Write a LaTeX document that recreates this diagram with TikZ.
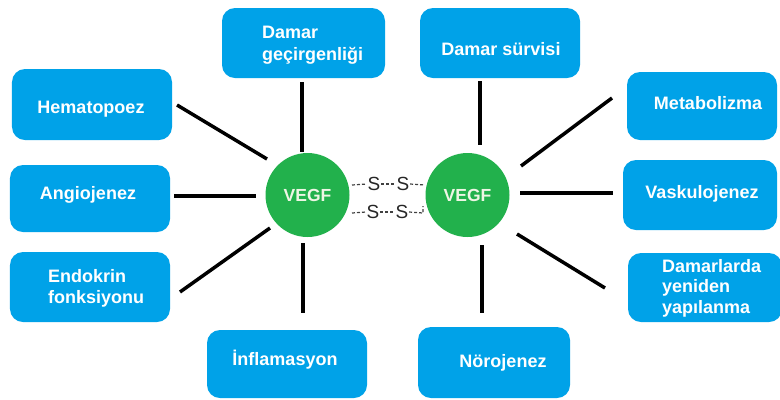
\documentclass[tikz,border=0pt]{standalone}
\usepackage{fontspec}
\setmainfont{Liberation Sans}
\definecolor{boxblue}{RGB}{0,162,232}
\definecolor{vgreen}{RGB}{34,177,76}
\definecolor{vtext}{RGB}{238,246,228}
\begin{document}
\begin{tikzpicture}[x=1bp,y=-1bp,
  box/.style={draw=none, fill=boxblue, rounded corners=13bp, inner sep=0},
  lbl/.style={text=white, font=\bfseries\fontsize{18bp}{21bp}\selectfont, anchor=base, inner sep=0},
  lbll/.style={lbl, anchor=base west},
  conn/.style={line width=3.5bp, black},
  vegf/.style={circle, fill=vgreen, minimum size=84bp, inner sep=0, text=vtext, font=\bfseries\fontsize{17.5bp}{20bp}\selectfont},
  sdash/.style={dash pattern=on 3bp off 2bp, line width=1.2bp, black!75},
  sletter/.style={font=\fontsize{19bp}{21bp}\selectfont, inner sep=0.5bp, text=black!85}]
\useasboundingbox[fill=white] (0,0) rectangle (780,399);

% boxes
\node[box, minimum width=160bp, minimum height=71bp] (hema) at (92,104.5) {};
\node[box, minimum width=160bp, minimum height=67bp] (angio) at (90,198.5) {};
\node[box, minimum width=160bp, minimum height=70bp] (endo) at (90,287) {};
\node[box, minimum width=163bp, minimum height=70bp] (gecir) at (303.5,43) {};
\node[box, minimum width=160bp, minimum height=70bp] (survi) at (500,43) {};
\node[box, minimum width=160bp, minimum height=68bp] (infla) at (287,364) {};
\node[box, minimum width=152bp, minimum height=71bp] (noro) at (494,362.5) {};
\node[box, minimum width=150bp, minimum height=68bp] (metab) at (702,106) {};
\node[box, minimum width=154bp, minimum height=70bp] (vasku) at (700,195) {};
\node[box, minimum width=154bp, minimum height=69bp] (damarl) at (705,287.5) {};

% box texts
\node[lbl] (hemaT) at (91,113) {Hematopoez};
\node[lbl] (angioT) at (88,199) {Angiojenez};
\node[lbll] (endoT1) at (48,282) {Endokrin};
\node[lbll] (endoT2) at (48,303) {fonksiyonu};
\node[lbll] (gecirT1) at (262,38) {Damar};
\node[lbll] (gecirT2) at (262,60) {geçirgenliği};
\node[lbl] (surviT) at (501,55) {Damar sürvisi};
\node[lbl] (inflaT) at (285,365) {İnflamasyon};
\node[lbl] (noroT) at (503,367) {Nörojenez};
\node[lbl] (metabT) at (708,109) {Metabolizma};
\node[lbl] (vaskuT) at (702,198) {Vaskulojenez};
\node[lbll] (damarlT1) at (662,272) {Damarlarda};
\node[lbll] (damarlT2) at (662,292) {yeniden};
\node[lbll] (damarlT3) at (662,313) {yapılanma};

% circles
\node[vegf] (vegfL) at (307.5,195) {VEGF};
\node[vegf] (vegfR) at (467.5,195) {VEGF};

% connector end points
\coordinate (h1) at (177,105);  \coordinate (h2) at (267,159);
\coordinate (a1) at (174,196);  \coordinate (a2) at (256,196);
\coordinate (e1) at (180,292);  \coordinate (e2) at (270,228);
\coordinate (g1) at (302,82);   \coordinate (g2) at (302,152);
\coordinate (i1) at (303,243);  \coordinate (i2) at (303,313);
\coordinate (s1) at (480,81);   \coordinate (s2) at (480,145);
\coordinate (n1) at (482,245);  \coordinate (n2) at (482,313);
\coordinate (m1) at (521,166);  \coordinate (m2) at (612,98);
\coordinate (v1) at (520,193);  \coordinate (v2) at (613,193);
\coordinate (d1) at (517,234);  \coordinate (d2) at (605,288);

\draw[conn] (h1) -- (h2);
\draw[conn] (a1) -- (a2);
\draw[conn] (e1) -- (e2);
\draw[conn] (g1) -- (g2);
\draw[conn] (i1) -- (i2);
\draw[conn] (s1) -- (s2);
\draw[conn] (n1) -- (n2);
\draw[conn] (m1) -- (m2);
\draw[conn] (v1) -- (v2);
\draw[conn] (d1) -- (d2);

% disulfide bridges
\node[sletter] (sA) at (374,184) {S};
\node[sletter] (sB) at (403,184) {S};
\node[sletter] (sC) at (373,212) {S};
\node[sletter] (sD) at (402,212) {S};
\coordinate (t0) at (352,185); \coordinate (t3) at (425,185);
\coordinate (b0) at (352,213); \coordinate (b3) at (423,213); \coordinate (b4) at (423,206);
\draw[sdash] (t0) -- (sA.west);
\draw[sdash] (sA.east) -- (sB.west);
\draw[sdash] (sB.east) -- (t3);
\draw[sdash] (b0) -- (sC.west);
\draw[sdash] (sC.east) -- (sD.west);
\draw[sdash] (sD.east) -- (b3) -- (b4);
\end{tikzpicture}
\end{document}
